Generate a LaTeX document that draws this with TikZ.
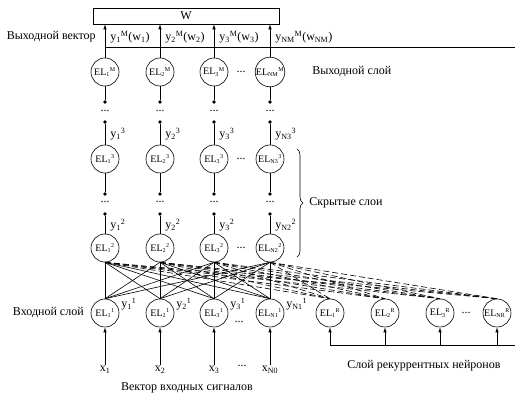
\documentclass[tikz,border=0pt]{standalone}
\usepackage{fontspec}
\setmainfont{Liberation Serif}
\usetikzlibrary{arrows.meta,decorations.pathreplacing}

\tikzset{
  neuron/.style={draw,circle,minimum size=28pt,inner sep=0pt,font=\fontsize{10}{11}\selectfont},
  dot/.style={circle,fill,inner sep=0pt,minimum size=3.6pt},
  lbl/.style={font=\fontsize{12}{14}\selectfont,inner sep=1pt},
  arr/.style={-{Latex[length=5pt,width=3.4pt]}}
}
\newcommand{\ELn}[2]{EL\textsubscript{\fontsize{6}{6}\selectfont #1}\textsuperscript{\fontsize{6}{6}\selectfont #2}}
\newcommand{\Yv}[2]{y\textsubscript{#1}\textsuperscript{#2}}

\begin{document}
\begin{tikzpicture}[x=1pt,y=-1pt,line width=0.6pt]
\useasboundingbox (0,0) rectangle (515,395);
% output box and output vector
\node[draw,minimum width=186pt,minimum height=16pt,inner sep=0pt,lbl] (W) at (186,16) {W};
\coordinate (ovL) at (105,47);
\coordinate (ovR) at (515,47);
\draw (ovL) -- (ovR);
\node[lbl,anchor=east] (outvec) at (97,37) {Выходной вектор};
\node[lbl,anchor=west] (outlay) at (311,72) {Выходной слой};
% columns of the layers
\foreach \x/\s/\w/\c/\b/\a [count=\i] in {105/1/1/1/1/1,160/2/2/2/2/2,214/3/3/3/3/3,270/NM/NM/N3/N2/N1}{
  \node[neuron] (o\i) at (\x,72) {\ELn{\s}{M}};
  \draw[arr] (o\i.north) -- (o\i.north |- W.south);
  \node[lbl,anchor=west] (oy\i) at (\x+4,37) {\Yv{\s}{M}(w\textsubscript{\w})};
  \node[dot] (da\i) at (\x,102) {};
  \draw (o\i) -- (da\i);
  \node[lbl] (ea\i) at (\x,111) {...};
  \node[dot] (db\i) at (\x,122) {};
  \node[lbl,anchor=west] (hy\i) at (\x+4,134) {\Yv{\c}{3}};
  \node[neuron] (hc\i) at (\x,159) {\ELn{\c}{3}};
  \draw (db\i) -- (hc\i);
  \node[dot] (dc\i) at (\x,194) {};
  \draw (hc\i) -- (dc\i);
  \node[lbl] (eb\i) at (\x,202) {...};
  \node[dot] (dd\i) at (\x,214) {};
  \node[lbl,anchor=west] (gy\i) at (\x+4,225) {\Yv{\b}{2}};
  \node[neuron] (hb\i) at (\x,248) {\ELn{\b}{2}};
  \draw (dd\i) -- (hb\i);
  \node[neuron] (in\i) at (\x,313) {\ELn{\a}{1}};
  \node[lbl,anchor=west] (iy\i) at (\x+15,304) {\Yv{\a}{1}};
}
% dots between the columns
\foreach \y in {72,159,248}{
  \node[lbl] at (241,\y) {...};
}
\node[lbl] at (239,322) {...};
% brace of the hidden layers
\draw[decorate,decoration={brace,amplitude=6pt}] (297,149) -- (297,257);
\node[lbl,anchor=west] (hidlay) at (308,203) {Скрытые слои};
% input signals
\node[lbl,anchor=east] (inlay) at (85,313) {Входной слой};
\foreach \x/\s [count=\i] in {105/1,160/2,214/3,270/N0}{
  \node[lbl] (x\i) at (\x,370) {x\textsubscript{\s}};
  \draw[arr] (x\i.north) -- (in\i.south);
}
\node[lbl] at (242,366) {...};
\node[lbl] (invec) at (187,388) {Вектор входных сигналов};
% recurrent neurons
\foreach \x/\s [count=\i] in {330/1,385/2,440/3,497/NR}{
  \node[neuron] (rc\i) at (\x,313) {\ELn{\s}{R}};
}
\node[lbl] at (466,313) {...};
\coordinate (busR) at (515,345);
\draw (busR) -- (rc1 |- busR);
\foreach \i in {1,...,4}{
  \draw[arr] (rc\i |- busR) -- (rc\i.south);
}
\node[lbl] (reclay) at (424,366) {Слой рекуррентных нейронов};
% full connections
\foreach \a in {1,...,4}{
  \foreach \b in {1,...,4}{
    \draw (hb\a.south) -- (in\b.north);
    \draw[dash pattern=on 6pt off 3pt] (hb\a.south) -- (rc\b.north);
  }
}
\end{tikzpicture}
\end{document}
